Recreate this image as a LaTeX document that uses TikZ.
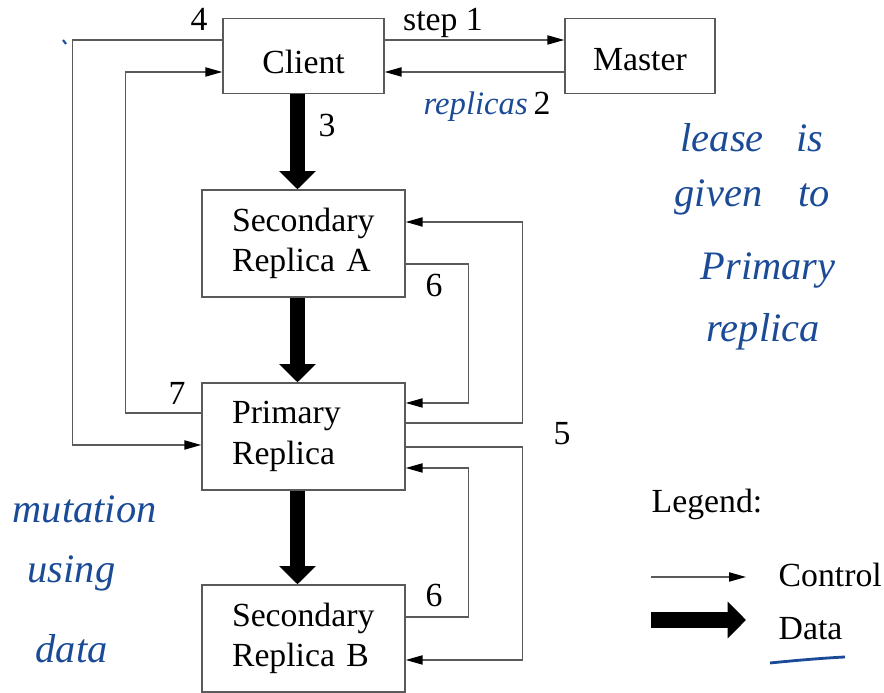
\documentclass[tikz,border=0pt]{standalone}
\usepackage{fontspec}
\setmainfont{Liberation Serif}
\usetikzlibrary{arrows.meta}
\definecolor{GFSline}{HTML}{5A5A5A}
\definecolor{GFSink}{HTML}{1B4B96}

\begin{document}
\begin{tikzpicture}[x=0.1mm, y=-0.1mm,
      font=\fontsize{9.6}{11.6}\selectfont,
      box/.style={draw=GFSline, line width=0.4pt, inner sep=0pt},
      replica/.style={box, text width=14.3mm, inner xsep=3mm, minimum height=10.7mm, align=left},
      ctrl/.style={draw=GFSline, line width=0.4pt, -{Triangle[length=4.8pt, width=2.6pt, color=black]}},
      data/.style={line width=4.3pt, -{Triangle[length=5.2pt, width=10.2pt]}},
      lbl/.style={anchor=base},
      legendtext/.style={anchor=base west, inner sep=0pt},
      ink/.style={text=GFSink, font=\fontsize{11.5}{14}\selectfont\itshape, anchor=base west, inner sep=0pt}]
      \useasboundingbox (0,0) rectangle (884,693);
      % Boxes
      \node[box, minimum width=16.1mm, minimum height=7.5mm, text height=9.8pt] (client) at (303.5,56) {Client};
      \node[box, minimum width=15mm, minimum height=7.5mm, text height=8.4pt] (master) at (640,56) {Master};
      \node[replica] (secA) at (303.5,243.5) {Secondary\\Replica A};
      \node[replica] (primary) at (303.5,436.5) {Primary\\Replica};
      \node[replica] (secB) at (303.5,638.5) {Secondary\\Replica B};
      % Data flow (thick)
      \draw[data] ([xshift=-0.6mm]client.south) -- ([xshift=-0.6mm]secA.north);
      \draw[data] ([xshift=-0.6mm]secA.south) -- ([xshift=-0.6mm]primary.north);
      \draw[data] ([xshift=-0.6mm]primary.south) -- ([xshift=-0.6mm]secB.north);
      % Control flow: client <-> master
      \draw[ctrl] ([yshift=1.6mm]client.east) -- ([yshift=1.6mm]master.west);
      \draw[ctrl] ([yshift=-1.6mm]master.west) -- ([yshift=-1.6mm]client.east);
      % 4 and 7, on the left
      \draw[ctrl] ([yshift=1.6mm]client.west) -- ++(-150,0) |- ([yshift=-0.85mm]primary.west);
      \draw[ctrl] ([yshift=2.35mm]primary.west) -- ++(-76,0) |- ([yshift=-1.6mm]client.west);
      % 5, primary to the secondaries
      \draw[ctrl] ([yshift=1.35mm]primary.east) -- ++(117,0) |- ([yshift=2.15mm]secA.east);
      \draw[ctrl] ([yshift=-1.05mm]primary.east) -- ++(117,0) |- ([yshift=-2.15mm]secB.east);
      % 6, secondaries back to primary
      \draw[ctrl] ([yshift=-2.05mm]secA.east) -- ++(63,0) |- ([yshift=3.35mm]primary.east);
      \draw[ctrl] ([yshift=2.15mm]secB.east) -- ++(63,0) |- ([yshift=-3.15mm]primary.east);
      % Step numbers
      \node[lbl] (n4) at (199,31) {4};
      \node[lbl] (n1) at (443,31) {step 1};
      \node[lbl] (n2) at (542,115) {2};
      \node[lbl] (n3) at (327,137) {3};
      \node[lbl] (n6a) at (434,297) {6};
      \node[lbl] (n5) at (562,445) {5};
      \node[lbl] (n6b) at (434,607) {6};
      \node[lbl] (n7) at (177,405) {7};
      % Legend
      \node[legendtext] (legend) at (651,513) {Legend:};
      \coordinate (ctrlA) at (651,577);
      \coordinate (ctrlB) at (746,577);
      \draw[ctrl] (ctrlA) -- (ctrlB);
      \node[legendtext] (ctrlText) at (778,587) {Control};
      \coordinate (dataA) at (651,620);
      \coordinate (dataB) at (746,620);
      \draw[data] (dataA) -- (dataB);
      \node[legendtext] (dataText) at (778,640) {Data};
      % Handwritten notes
      \node[ink, font=\fontsize{9.3}{11}\selectfont\itshape] (inkRep) at (423,115) {replicas};
      \node[ink] (inkL1) at (680,152) {lease\hspace{3.3mm}is};
      \node[ink] (inkL2) at (674,207) {given\hspace{3.6mm}to};
      \node[ink] (inkL3) at (700,280) {Primary};
      \node[ink] (inkL4) at (706,342) {replica};
      \node[ink] (inkM1) at (12,523) {mutation};
      \node[ink] (inkM2) at (27,583) {using};
      \node[ink] (inkM3) at (35,663) {data};
      \draw[GFSink, line width=0.6pt] (63,40) -- (66,44);
      \draw[GFSink, line width=0.8pt] (770,663) .. controls (800,660) and (825,658) .. (845,657);
   \end{tikzpicture}
\end{document}
